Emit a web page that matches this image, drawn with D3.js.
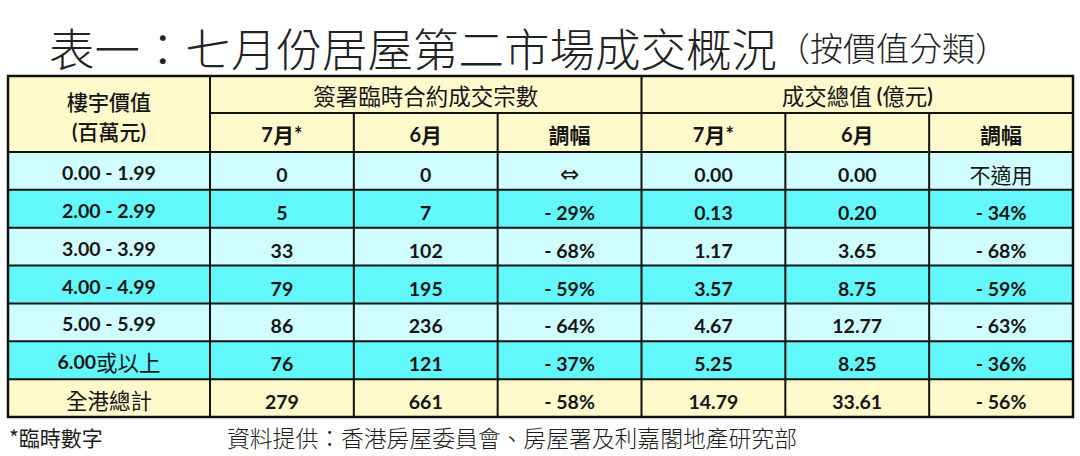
<!DOCTYPE html>
<html>
<head>
<meta charset="utf-8">
<script src="https://cdn.jsdelivr.net/npm/d3@7"></script>
<style>
  body { margin: 0; background: #fff; }
  svg { display: block; }
</style>
</head>
<body>
<div class="container"></div>
<script>
const w = 1080, h = 456;

// table content
const priceBands = ["0.00 - 1.99", "2.00 - 2.99", "3.00 - 3.99", "4.00 - 4.99", "5.00 - 5.99", "6.00或以上", "全港總計"];
const julyDeals = ["0", "5", "33", "79", "86", "76", "279"];
const juneDeals = ["0", "7", "102", "195", "236", "121", "661"];
const dealChange = ["⇔", "- 29%", "- 68%", "- 59%", "- 64%", "- 37%", "- 58%"];
const julyValue = ["0.00", "0.13", "1.17", "3.57", "4.67", "5.25", "14.79"];
const juneValue = ["0.00", "0.20", "3.65", "8.75", "12.77", "8.25", "33.61"];
const valueChange = ["不適用", "- 34%", "- 68%", "- 59%", "- 63%", "- 36%", "- 56%"];
const groupHeads = ["簽署臨時合約成交宗數", "成交總值 (億元)"];
const subHeads = ["7月*", "6月", "調幅", "7月*", "6月", "調幅"];
const firstHead = ["樓宇價值", "(百萬元)"];
const title = "表一：七月份居屋第二市場成交概況";
const titleNote = "（按價值分類）";
const footNote = "*臨時數字";
const source = "資料提供：香港房屋委員會、房屋署及利嘉閣地產研究部";

const columns = [julyDeals, juneDeals, dealChange, julyValue, juneValue, valueChange];

const tLeft = 8, tSplit = 210, tRight = 1073;
const tTop = 76, tMid = 113, tHeadBottom = 152, tBottom = 417;

const x = d3.scaleBand().domain(d3.range(columns.length)).range([tSplit, tRight]);
const y = d3.scaleBand().domain(priceBands).range([tHeadBottom, tBottom]);

const cjk = /([\u2e80-\u9fff\u3000-\u303f\uff00-\uffef]+)/;
const latinFont = "Lato, 'Noto Sans', sans-serif";
const cjkFont = "'Noto Sans CJK TC', 'Noto Sans CJK SC', sans-serif";

const svg = d3.select('.container')
    .append('svg')
    .attr('width', w)
    .attr('height', h);

// writes a label, bold latin runs and CJK runs with their own weight and size
function label(g, str, cx, cy, size, cjkSize, cjkWeight) {
    const t = g.append('text')
        .attr('x', cx)
        .attr('y', cy)
        .attr('text-anchor', 'middle')
        .attr('dominant-baseline', 'central')
        .style('fill', '#161616');
    str.split(cjk).filter(s => s.length).forEach(s => {
        const isCjk = /[\u2e80-\u9fff\u3000-\u303f\uff00-\uffef]/.test(s);
        t.append('tspan')
            .text(s)
            .style('font-size', (isCjk ? cjkSize : size) + 'px')
            .style('font-family', isCjk ? cjkFont : latinFont)
            .style('font-weight', isCjk ? cjkWeight : 700);
    });
    return t;
}

// title
svg.append('text')
    .attr('x', 49)
    .attr('y', 47)
    .attr('dominant-baseline', 'central')
    .style('font-family', cjkFont)
    .style('font-weight', 300)
    .style('fill', '#222')
    .call(t => {
        t.append('tspan').text(title).style('font-size', '45.5px');
        t.append('tspan').text(titleNote).style('font-size', '33px');
    });

// backgrounds
const headFill = '#fff9cb', light = '#d0fdff', dark = '#62f8fb';
svg.append('rect')
    .attr('x', tLeft).attr('y', tTop)
    .attr('width', tRight - tLeft).attr('height', tHeadBottom - tTop)
    .style('fill', headFill);

svg.selectAll('rect.row')
    .data(priceBands)
    .enter()
    .append('rect')
    .attr('class', 'row')
    .attr('x', tLeft)
    .attr('y', d => y(d))
    .attr('width', tRight - tLeft)
    .attr('height', y.bandwidth())
    .style('fill', (d, i) => i === priceBands.length - 1 ? headFill : (i % 2 ? dark : light));

// grid lines
const grid = svg.append('g')
    .style('stroke', '#111')
    .style('stroke-width', 2)
    .style('fill', 'none');

grid.append('line').attr('x1', tSplit).attr('x2', tRight).attr('y1', tMid).attr('y2', tMid);
grid.selectAll('line.h')
    .data(priceBands.slice(1))
    .enter()
    .append('line')
    .attr('class', 'h')
    .attr('x1', tLeft).attr('x2', tRight)
    .attr('y1', d => y(d)).attr('y2', d => y(d));
grid.append('line').attr('x1', tLeft).attr('x2', tRight).attr('y1', tHeadBottom).attr('y2', tHeadBottom);
grid.selectAll('line.v')
    .data(d3.range(columns.length))
    .enter()
    .append('line')
    .attr('class', 'v')
    .attr('x1', d => x(d)).attr('x2', d => x(d))
    .attr('y1', d => d % 3 === 0 ? tTop : tMid)
    .attr('y2', tBottom);
grid.append('rect')
    .attr('x', tLeft).attr('y', tTop)
    .attr('width', tRight - tLeft).attr('height', tBottom - tTop)
    .style('stroke-width', 2.5);

// header texts
const heads = svg.append('g');
label(heads, firstHead[0], (tLeft + tSplit) / 2, 101, 20, 21, 500);
label(heads, firstHead[1], (tLeft + tSplit) / 2, 131, 20, 21, 500);
groupHeads.forEach((s, i) => {
    const x0 = x(i * 3), x1 = i === 0 ? x(3) : tRight;
    label(heads, s, (x0 + x1) / 2, 95, 20, 22.5, 400);
});
subHeads.forEach((s, i) => label(heads, s, x(i) + x.bandwidth() / 2, 134, 20, 21, 700));

// body
const body = svg.append('g');
priceBands.forEach((band, r) => {
    const cy = y(band) + y.bandwidth() / 2 + 1;
    label(body, band, (tLeft + tSplit) / 2, cy, 19.5, 21.5, 400);
    columns.forEach((col, c) => {
        const v = col[r];
        const t = label(body, v, x(c) + x.bandwidth() / 2, cy + 2, 19.5, 21, 400);
        if (v === "⇔") {
            t.selectAll('tspan')
                .style('font-family', "'DejaVu Sans', sans-serif")
                .style('font-size', '23px')
                .style('font-weight', 400);
        }
    });
});

// footer
svg.append('text')
    .attr('x', 9).attr('y', 437)
    .attr('dominant-baseline', 'central')
    .style('font-family', cjkFont)
    .style('font-size', '21px')
    .style('fill', '#1c1c1c')
    .text(footNote);
svg.append('text')
    .attr('x', 227).attr('y', 437)
    .attr('dominant-baseline', 'central')
    .style('font-family', cjkFont)
    .style('font-size', '22.8px')
    .style('font-weight', 300)
    .style('fill', '#1c1c1c')
    .text(source);
</script>
</body>
</html>
